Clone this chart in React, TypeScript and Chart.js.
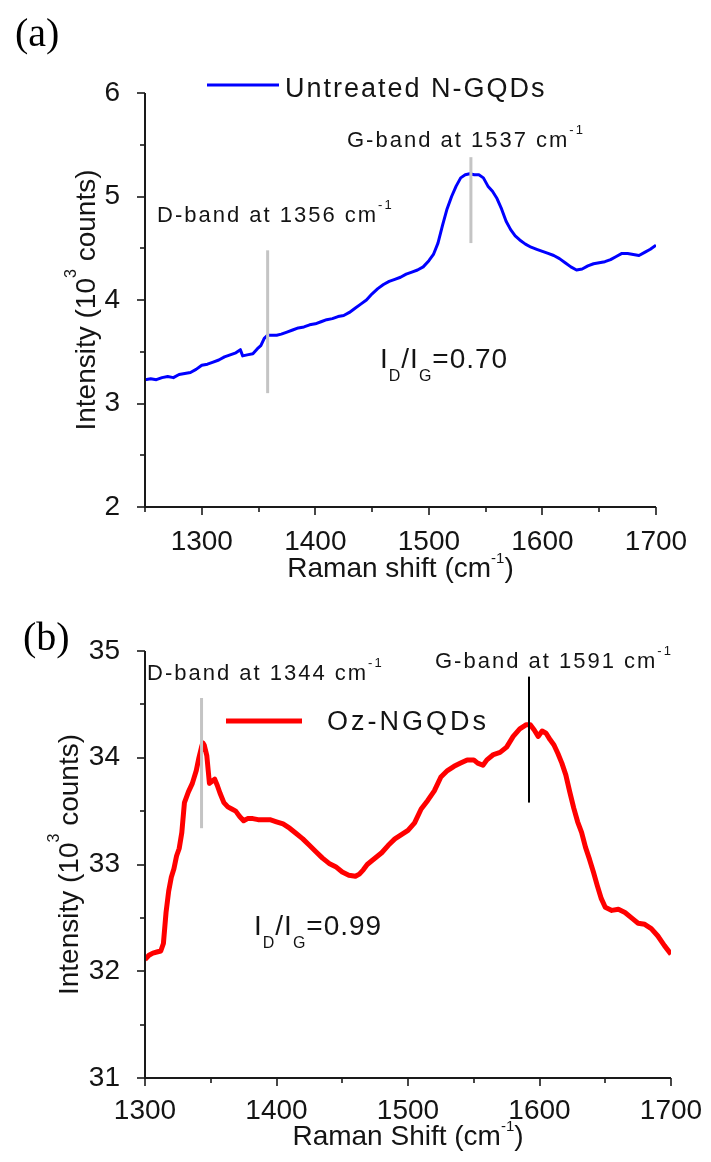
import React, { useEffect, useRef } from 'react';
import { Chart, registerables } from 'chart.js';

Chart.register(...registerables);

// ---------- data ----------
const topShift = [
  1250, 1255, 1260, 1265, 1270, 1275, 1280, 1285, 1290, 1295, 1300, 1305, 1310, 1315, 1320, 1325, 1330, 1334, 1336, 1340,
  1345, 1349, 1352, 1355, 1358, 1362, 1366, 1370, 1375, 1380, 1385, 1390, 1395, 1400, 1405, 1410, 1415, 1420, 1425, 1430,
  1435, 1440, 1445, 1450, 1455, 1460, 1465, 1470, 1475, 1480, 1485, 1490, 1495, 1500, 1504, 1508, 1512, 1516, 1520, 1524,
  1528, 1532, 1536, 1540, 1544, 1548, 1552, 1556, 1560, 1564, 1568, 1572, 1576, 1580, 1585, 1590, 1595, 1600, 1605, 1610,
  1615, 1620, 1625, 1630, 1635, 1640, 1645, 1650, 1655, 1660, 1665, 1670, 1675, 1680, 1685, 1690, 1695, 1700,
];
const topIntensity = [
  3.23, 3.24, 3.23, 3.25, 3.26, 3.25, 3.28, 3.29, 3.3, 3.33, 3.37, 3.38, 3.4, 3.42, 3.45, 3.47, 3.49, 3.52, 3.46, 3.47,
  3.48, 3.53, 3.56, 3.63, 3.66, 3.66, 3.66, 3.67, 3.69, 3.71, 3.73, 3.74, 3.76, 3.77, 3.79, 3.81, 3.82, 3.84, 3.85, 3.88,
  3.92, 3.96, 4.0, 4.06, 4.11, 4.15, 4.18, 4.2, 4.22, 4.25, 4.27, 4.29, 4.32, 4.38, 4.44, 4.55, 4.72, 4.88, 5.0, 5.1,
  5.18, 5.21, 5.22, 5.21, 5.21, 5.18, 5.1, 5.05, 4.98, 4.88, 4.76, 4.68, 4.62, 4.58, 4.54, 4.51, 4.49, 4.47, 4.45, 4.43,
  4.4, 4.36, 4.32, 4.29, 4.3, 4.33, 4.35, 4.36, 4.37, 4.39, 4.42, 4.45, 4.45, 4.44, 4.43, 4.46, 4.49, 4.53,
];

const bottomShift = [
  1300, 1303, 1306, 1309, 1312, 1314, 1316, 1318, 1320, 1322, 1324, 1326, 1328, 1330, 1333, 1336, 1339, 1341, 1343, 1344,
  1345, 1347, 1349, 1351, 1353, 1355, 1357, 1360, 1363, 1366, 1369, 1372, 1375, 1378, 1382, 1386, 1390, 1395, 1400, 1405,
  1410, 1415, 1420, 1425, 1430, 1435, 1440, 1445, 1450, 1455, 1460, 1463, 1466, 1469, 1472, 1476, 1480, 1485, 1490, 1495,
  1500, 1505, 1510, 1515, 1520, 1525, 1530, 1535, 1540, 1545, 1550, 1553, 1557, 1560, 1565, 1570, 1575, 1580, 1585, 1590,
  1593, 1596, 1599, 1602, 1605, 1608, 1611, 1614, 1617, 1620, 1623, 1626, 1629, 1632, 1635, 1638, 1641, 1644, 1647, 1650,
  1655, 1660, 1665, 1670, 1675, 1680, 1685, 1690, 1695, 1700,
];
const bottomIntensity = [
  32.11, 32.15, 32.17, 32.18, 32.19, 32.26, 32.55, 32.75, 32.88, 32.96, 33.08, 33.15, 33.3, 33.58, 33.68, 33.76, 33.88, 34.0, 34.1, 34.14,
  34.12, 34.02, 33.76, 33.78, 33.8, 33.74, 33.67, 33.58, 33.54, 33.52, 33.5, 33.45, 33.41, 33.43, 33.43, 33.42, 33.42, 33.42, 33.4, 33.38,
  33.34, 33.29, 33.24, 33.18, 33.12, 33.06, 33.01, 32.98, 32.93, 32.9, 32.89, 32.91, 32.95, 33.0, 33.03, 33.07, 33.11, 33.18, 33.24, 33.28,
  33.32, 33.39, 33.52, 33.6, 33.69, 33.82, 33.88, 33.92, 33.95, 33.98, 33.98, 33.95, 33.93, 33.98, 34.03, 34.05, 34.1, 34.2, 34.27, 34.31,
  34.31, 34.26, 34.2, 34.25, 34.23, 34.17, 34.12, 34.04, 33.95, 33.84, 33.68, 33.53, 33.4, 33.3, 33.16, 33.05, 32.93, 32.8, 32.68, 32.6,
  32.57, 32.58, 32.55, 32.5, 32.45, 32.44, 32.4, 32.33, 32.24, 32.16,
];

const topXRange = [1250, 1700];
const topYRange = [2, 6];
const bottomXRange = [1300, 1700];
const bottomYRange = [31, 35];

// band markers: [shift, y from, y to]
const topDMarker = [1358, 3.1, 4.48];
const topGMarker = [1537, 4.55, 5.38];
const bottomDMarker = [1343, 33.34, 34.56];
const bottomGMarker = [1592, 33.58, 34.76];

const topLabels = {
  panel: '(a)',
  legend: 'Untreated N-GQDs',
  dBand: 'D-band at 1356 cm',
  gBand: 'G-band at 1537 cm',
  ratio: '=0.70',
  xTitle: 'Raman shift (cm',
};
const bottomLabels = {
  panel: '(b)',
  legend: 'Oz-NGQDs',
  dBand: 'D-band at 1344 cm',
  gBand: 'G-band at 1591 cm',
  ratio: '=0.99',
  xTitle: 'Raman Shift (cm',
};

// ---------- drawing helpers ----------
const SANS = '"Liberation Sans", Arial, sans-serif';
const SERIF = '"Liberation Serif", "Times New Roman", serif';
const TEXT = '#141414';

type Seg = { t: string; size: number; dy?: number };

function drawRich(
  ctx: CanvasRenderingContext2D,
  x: number,
  y: number,
  segs: Seg[],
  opt: { align?: 'left' | 'center'; spacing?: number; family?: string; color?: string } = {}
) {
  const fam = opt.family || SANS;
  ctx.save();
  (ctx as any).letterSpacing = (opt.spacing || 0) + 'px';
  ctx.textBaseline = 'alphabetic';
  ctx.textAlign = 'left';
  ctx.fillStyle = opt.color || TEXT;
  const widths = segs.map((s) => {
    ctx.font = `${s.size}px ${fam}`;
    return ctx.measureText(s.t).width;
  });
  const total = widths.reduce((a, b) => a + b, 0);
  let cx = opt.align === 'center' ? x - total / 2 : x;
  segs.forEach((s, i) => {
    ctx.font = `${s.size}px ${fam}`;
    ctx.fillText(s.t, cx, y + (s.dy || 0));
    cx += widths[i];
  });
  ctx.restore();
}

function axesPlugin(majorX: number) {
  return {
    id: 'axesDraw',
    afterDatasetsDraw(chart: any) {
      const { ctx, chartArea: a, scales } = chart;
      const x = scales.x;
      const y = scales.y;
      ctx.save();
      ctx.strokeStyle = '#1a1a1a';
      ctx.lineWidth = 2;
      ctx.beginPath();
      ctx.moveTo(a.left, a.top);
      ctx.lineTo(a.left, a.bottom);
      ctx.lineTo(a.right, a.bottom);
      ctx.stroke();
      ctx.lineWidth = 1.6;
      x.ticks.forEach((t: any) => {
        const px = Math.round(x.getPixelForValue(t.value));
        const len = t.value % majorX === 0 ? 8 : 5;
        ctx.beginPath();
        ctx.moveTo(px, a.bottom);
        ctx.lineTo(px, a.bottom + len);
        ctx.stroke();
      });
      y.ticks.forEach((t: any) => {
        const py = Math.round(y.getPixelForValue(t.value));
        const len = Number.isInteger(t.value) ? 8 : 5;
        ctx.beginPath();
        ctx.moveTo(a.left, py);
        ctx.lineTo(a.left - len, py);
        ctx.stroke();
      });
      ctx.restore();
    },
  };
}

function marker(chart: any, m: number[], color: string, width: number) {
  const { ctx, scales } = chart;
  const px = scales.x.getPixelForValue(m[0]);
  ctx.save();
  ctx.strokeStyle = color;
  ctx.lineWidth = width;
  ctx.beginPath();
  ctx.moveTo(px, scales.y.getPixelForValue(m[2]));
  ctx.lineTo(px, scales.y.getPixelForValue(m[1]));
  ctx.stroke();
  ctx.restore();
}

function ratioText(ctx: CanvasRenderingContext2D, x: number, y: number, value: string) {
  drawRich(
    ctx,
    x,
    y,
    [
      { t: 'I', size: 28 },
      { t: 'D', size: 16, dy: 13 },
      { t: '/', size: 28 },
      { t: 'I', size: 28 },
      { t: 'G', size: 16, dy: 13 },
      { t: value, size: 28 },
    ],
    { spacing: 1 }
  );
}

function yTitle(ctx: CanvasRenderingContext2D, x: number, y: number) {
  ctx.save();
  ctx.translate(x, y);
  ctx.rotate(-Math.PI / 2);
  drawRich(
    ctx,
    0,
    0,
    [
      { t: 'Intensity (10', size: 28 },
      { t: '3', size: 16, dy: -19 },
      { t: ' counts)', size: 28 },
    ],
    { align: 'center' }
  );
  ctx.restore();
}

function xTitle(ctx: CanvasRenderingContext2D, x: number, y: number, label: string) {
  drawRich(
    ctx,
    x,
    y,
    [
      { t: label, size: 28 },
      { t: '-1', size: 15, dy: -14 },
      { t: ')', size: 28 },
    ],
    { align: 'center' }
  );
}

function bandText(ctx: CanvasRenderingContext2D, x: number, y: number, label: string) {
  drawRich(
    ctx,
    x,
    y,
    [
      { t: label, size: 22 },
      { t: '-1', size: 13, dy: -13 },
    ],
    { spacing: 2 }
  );
}

const topDecor = {
  id: 'topDecor',
  afterDraw(chart: any) {
    const { ctx, chartArea: a } = chart;
    marker(chart, topDMarker, '#c4c4c4', 3);
    marker(chart, topGMarker, '#c4c4c4', 3);
    drawRich(ctx, 15, 46, [{ t: topLabels.panel, size: 40 }], { family: SERIF, color: '#000' });
    // legend
    ctx.save();
    ctx.strokeStyle = '#0000ff';
    ctx.lineWidth = 3;
    ctx.beginPath();
    ctx.moveTo(207, 85);
    ctx.lineTo(279, 85);
    ctx.stroke();
    ctx.restore();
    drawRich(ctx, 285, 97, [{ t: topLabels.legend, size: 27 }], { spacing: 2 });
    bandText(ctx, 157, 222, topLabels.dBand);
    bandText(ctx, 347, 147, topLabels.gBand);
    ratioText(ctx, 380, 368, topLabels.ratio);
    xTitle(ctx, (a.left + a.right) / 2, 577, topLabels.xTitle);
    yTitle(ctx, 95, (a.top + a.bottom) / 2);
  },
};

const bottomDecor = {
  id: 'bottomDecor',
  afterDraw(chart: any) {
    const { ctx, chartArea: a } = chart;
    marker(chart, bottomDMarker, '#c4c4c4', 3);
    marker(chart, bottomGMarker, '#000000', 2);
    drawRich(ctx, 23, 60, [{ t: bottomLabels.panel, size: 40 }], { family: SERIF, color: '#000' });
    ctx.save();
    ctx.strokeStyle = '#ff0000';
    ctx.lineWidth = 5;
    ctx.beginPath();
    ctx.moveTo(226, 131);
    ctx.lineTo(302, 131);
    ctx.stroke();
    ctx.restore();
    drawRich(ctx, 327, 140, [{ t: bottomLabels.legend, size: 27 }], { spacing: 3 });
    bandText(ctx, 147, 90, bottomLabels.dBand);
    bandText(ctx, 435, 78, bottomLabels.gBand);
    ratioText(ctx, 254, 345, bottomLabels.ratio);
    xTitle(ctx, (a.left + a.right) / 2, 555, bottomLabels.xTitle);
    yTitle(ctx, 78, (a.top + a.bottom) / 2);
  },
};

function makeConfig(
  shift: number[],
  values: number[],
  label: string,
  color: string,
  width: number,
  xr: number[],
  yr: number[],
  pad: { top: number; right: number },
  xAxisHeight: number,
  xPad: number,
  decor: any
): any {
  const tickFont = { family: SANS, size: 28 };
  return {
    type: 'line',
    data: {
      datasets: [
        {
          label,
          data: shift.map((x, i) => ({ x, y: values[i] })),
          borderColor: color,
          backgroundColor: color,
          borderWidth: width,
          pointRadius: 0,
          tension: 0,
          fill: false,
          borderJoinStyle: 'round',
        },
      ],
    },
    options: {
      responsive: false,
      animation: false,
      events: [],
      layout: { padding: { top: pad.top, right: pad.right, left: 0, bottom: 0 } },
      plugins: { legend: { display: false }, tooltip: { enabled: false } },
      scales: {
        x: {
          type: 'linear',
          min: xr[0],
          max: xr[1],
          grid: { display: false },
          border: { display: false },
          ticks: {
            stepSize: 50,
            autoSkip: false,
            maxRotation: 0,
            padding: xPad,
            color: TEXT,
            font: tickFont,
            callback: (v: number) => (v % 100 === 0 ? String(v) : ''),
          },
          afterFit: (s: any) => {
            s.height = xAxisHeight;
          },
        },
        y: {
          min: yr[0],
          max: yr[1],
          grid: { display: false },
          border: { display: false },
          ticks: {
            stepSize: 0.5,
            autoSkip: false,
            padding: 17,
            color: TEXT,
            font: tickFont,
            callback: (v: number) => (Number.isInteger(v) ? String(v) : ''),
          },
          afterFit: (s: any) => {
            s.width = 145;
          },
        },
      },
    },
    plugins: [axesPlugin(100), decor],
  };
}

export default function App() {
  const topRef = useRef<HTMLCanvasElement>(null);
  const bottomRef = useRef<HTMLCanvasElement>(null);

  useEffect(() => {
    const c1 = new Chart(
      topRef.current as HTMLCanvasElement,
      makeConfig(topShift, topIntensity, topLabels.legend, '#0000ff', 3, topXRange, topYRange, { top: 93, right: 55 }, 83, 10, topDecor)
    );
    const c2 = new Chart(
      bottomRef.current as HTMLCanvasElement,
      makeConfig(bottomShift, bottomIntensity, bottomLabels.legend, '#ff0000', 5, bottomXRange, bottomYRange, { top: 61, right: 40 }, 84, 8, bottomDecor)
    );
    return () => {
      c1.destroy();
      c2.destroy();
    };
  }, []);

  return (
    <div style={{ position: 'absolute', left: 0, top: 0, width: 711, height: 1162, background: '#fff' }}>
      <canvas ref={topRef} width={711} height={590} style={{ display: 'block', width: 711, height: 590 }} />
      <canvas ref={bottomRef} width={711} height={572} style={{ display: 'block', width: 711, height: 572 }} />
    </div>
  );
}
